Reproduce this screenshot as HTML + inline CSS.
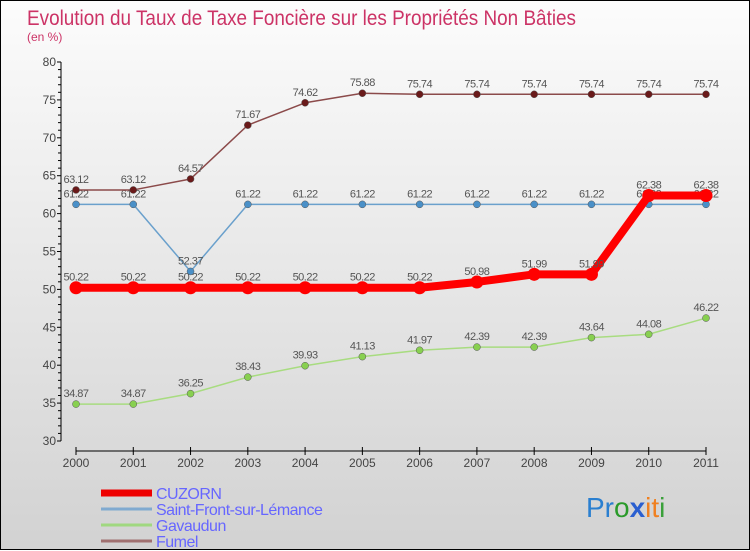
<!DOCTYPE html>
<html><head><meta charset="utf-8"><style>
body{margin:0;width:750px;height:550px;overflow:hidden;font-family:"Liberation Sans",sans-serif}
#wrap{position:relative;width:748px;height:548px;border:1px solid #000;background:linear-gradient(#fcfcfc,#d2d2d2)}
svg{position:absolute;left:0;top:0}
</style></head><body>
<div id="wrap">
<svg id="chart" width="750" height="550">
<text x="26" y="24" font-size="21" fill="#cc3366" textLength="549" lengthAdjust="spacingAndGlyphs">Evolution du Taux de Taxe Foncière sur les Propriétés Non Bâties</text>
<text x="26" y="40" font-size="12" fill="#cc3366">(en %)</text>
<g id="axes"></g><g id="series"></g><g id="legend"></g>
<text x="585" y="516" font-size="28"><tspan fill="#2a7fd0">Pr</tspan><tspan fill="#2a9a2a">o</tspan><tspan fill="#2a5fd0" font-weight="bold">x</tspan><tspan fill="#f08020">it</tspan><tspan fill="#3aa03a">i</tspan></text>
</svg></div>
<script>
const years=["2000","2001","2002","2003","2004","2005","2006","2007","2008","2009","2010","2011"];
const yTicks=[30,35,40,45,50,55,60,65,70,75,80];
const cuzorn=[50.22,50.22,50.22,50.22,50.22,50.22,50.22,50.98,51.99,51.99,62.38,62.38];
const saintFront=[61.22,61.22,52.37,61.22,61.22,61.22,61.22,61.22,61.22,61.22,61.22,61.22];
const gavaudun=[34.87,34.87,36.25,38.43,39.93,41.13,41.97,42.39,42.39,43.64,44.08,46.22];
const fumel=[63.12,63.12,64.57,71.67,74.62,75.88,75.74,75.74,75.74,75.74,75.74,75.74];
const NS="http://www.w3.org/2000/svg";
const X=i=>75+i*(705-75)/11;
const Y=v=>440-(v-30)*(440-61)/50;
function mk(t,a,p){const e=document.createElementNS(NS,t);for(const k in a)e.setAttribute(k,a[k]);p.appendChild(e);return e;}
const ax=document.getElementById('axes');
let e=mk('line',{x1:60,y1:Y(80),x2:60,y2:Y(30),stroke:'#000'},ax);


e=mk('line',{x1:X(0),y1:450,x2:X(11),y2:450,stroke:'#000'},ax);


for(let v=30;v<=80;v++){mk('line',{x1:v%5?57:56,y1:Y(v),x2:60,y2:Y(v),stroke:'#000'},ax);}
yTicks.forEach(v=>{const t=mk('text',{x:55,y:Y(v)+4,'font-size':12,fill:'#444','text-anchor':'end'},ax);t.textContent=v;

});
years.forEach((y,i)=>{mk('line',{x1:X(i),y1:446,x2:X(i),y2:454,stroke:'#000'},ax);const t=mk('text',{x:X(i),y:466,'font-size':12,fill:'#444','text-anchor':'middle'},ax);t.textContent=y;

});
const sg=document.getElementById('series');
function series(name,data,lc,dc,w,r){const g=mk('g',{},sg);


mk('polyline',{points:data.map((v,i)=>X(i)+','+Y(v)).join(' '),fill:'none',stroke:lc,'stroke-width':w,'stroke-linejoin':'round'},g);
data.forEach((v,i)=>{const c=mk('circle',{cx:X(i),cy:Y(v),r:r,fill:dc,stroke:'#555','stroke-width':r>5?0:0.5},g);


const t=mk('text',{x:X(i),y:Y(v)-7,'font-size':11,fill:'#555','text-anchor':'middle','letter-spacing':'-0.5'},g);t.textContent=v.toFixed(2);

});}
series('gavaudun',gavaudun,'#a8dc80','#88d050',1.5,3.5);
series('saint-front',saintFront,'#6aa0cc','#4a90c8',1.5,3.5);
series('fumel',fumel,'#8b4a4a','#6a1a1a',1.5,3.5);
series('cuzorn',cuzorn,'#ff0000','#ff0000',8,6.5);
const lg=document.getElementById('legend');
const leg=[['CUZORN','#ee0000',7],['Saint-Front-sur-Lémance','#80aad0',3],['Gavaudun','#a0d880',3],['Fumel','#a07070',3]];
leg.forEach((l,i)=>{const y=492+i*16;const g=mk('g',{},lg);


mk('line',{x1:100,y1:y,x2:151,y2:y,stroke:l[1],'stroke-width':l[2]},g);
const t=mk('text',{x:155,y:y+6,'font-size':16,fill:'#6666ff','letter-spacing':'-0.5'},g);t.textContent=l[0];});
</script></body></html>
